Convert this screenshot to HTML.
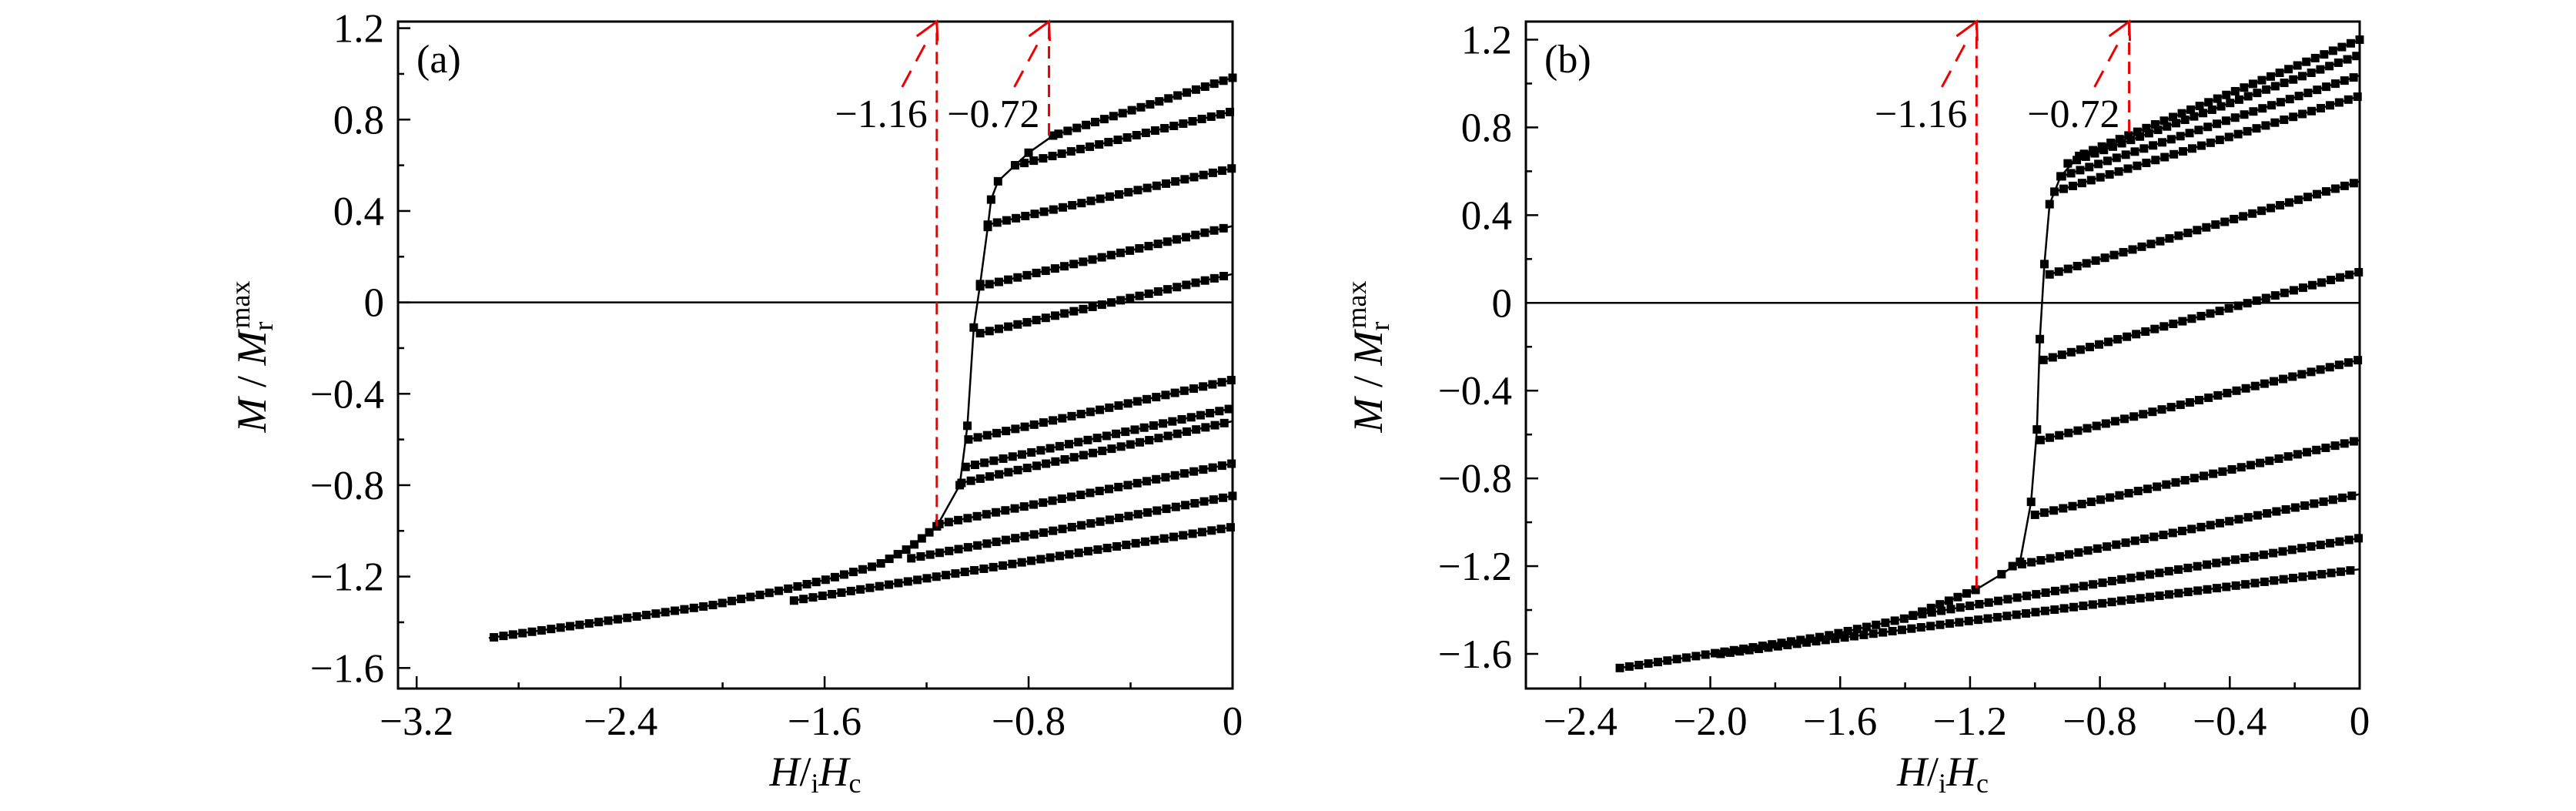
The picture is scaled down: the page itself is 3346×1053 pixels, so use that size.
<!DOCTYPE html>
<html><head><meta charset="utf-8">
<style>
html,body{margin:0;padding:0;background:#fff;}
svg{display:block;}
text{font-family:"Liberation Serif",serif;fill:#000;}
</style></head>
<body>
<svg id="fig" width="3346" height="1053" viewBox="0 0 3346 1053" xmlns="http://www.w3.org/2000/svg"></svg>
<script>
// ---- Panel (a) data ----
const aUpperH = [0, -0.704];
const aUpperM = [0.983, 0.73];
const aSteepH = [-0.704,-0.80,-0.853,-0.92,-0.947,-0.96,-0.99,-1.015,-1.04,-1.07,-1.16];
const aSteepM = [0.73,0.655,0.60,0.53,0.45,0.33,0.08,-0.11,-0.54,-0.80,-0.98];
const aLowH = [-1.16,-1.26,-1.392,-1.6,-1.77,-2.04,-2.4,-2.917];
const aLowM = [-0.98,-1.07,-1.15,-1.215,-1.26,-1.325,-1.385,-1.469];
const aRecStartH = [-0.853,-0.96,-0.99,-0.99,-1.036,-1.047,-1.063,-1.15,-1.26,-1.72];
const aRecStartM = [0.60,0.34,0.07,-0.135,-0.60,-0.72,-0.79,-0.97,-1.12,-1.305];
const aRecEndM = [0.836,0.587,0.334,0.124,-0.339,-0.463,-0.52,-0.705,-0.847,-0.983];
const aXTicks = [-3.2,-2.4,-1.6,-0.8,0];
const aXTickLabels = ["\u22123.2","\u22122.4","\u22121.6","\u22120.8","0"];
const aYTicks = [1.2,0.8,0.4,0,-0.4,-0.8,-1.2,-1.6];
const aYTickLabels = ["1.2","0.8","0.4","0","\u22120.4","\u22120.8","\u22121.2","\u22121.6"];
const aMarkH = [-1.16,-0.72];
const aMarkBaseM = [-0.98,0.73];
const aMarkLabels = ["\u22121.16","\u22120.72"];

// ---- Panel (b) data ----
const bUpperH = [0, -0.864];
const bUpperM = [1.20, 0.67];
const bSteepH = [-0.864,-0.921,-0.955,-0.971,-0.985,-0.994,-1.012,-1.046,-1.103,-1.183];
const bSteepM = [0.67,0.577,0.45,0.177,-0.165,-0.577,-0.907,-1.18,-1.237,-1.308];
const bLowH = [-1.183,-1.399,-1.649,-2.0,-2.286];
const bLowM = [-1.308,-1.438,-1.52,-1.60,-1.666];
const bRecStartH = [-0.899,-0.917,-0.94,-0.955,-0.974,-0.983,-1.0,-1.069,-1.376,-1.968];
const bRecStartM = [0.636,0.577,0.507,0.13,-0.26,-0.625,-0.966,-1.20,-1.426,-1.60];
const bRecEndM = [1.131,1.037,0.943,0.554,0.141,-0.259,-0.625,-0.872,-1.072,-1.214];
const bXTicks = [-2.4,-2.0,-1.6,-1.2,-0.8,-0.4,0];
const bXTickLabels = ["\u22122.4","\u22122.0","\u22121.6","\u22121.2","\u22120.8","\u22120.4","0"];
const bYTicks = [1.2,0.8,0.4,0,-0.4,-0.8,-1.2,-1.6];
const bYTickLabels = ["1.2","0.8","0.4","0","\u22120.4","\u22120.8","\u22121.2","\u22121.6"];
const bMarkH = [-1.18,-0.71];
const bMarkBaseM = [-1.30,0.78];
const bMarkLabels = ["\u22121.16","\u22120.72"];

const NS = "http://www.w3.org/2000/svg";
const svg = document.getElementById('fig');
function mk(tag, attrs, parent){
  const e = document.createElementNS(NS, tag);
  for (const k in attrs) e.setAttribute(k, attrs[k]);
  (parent||svg).appendChild(e);
  return e;
}

function drawPanel(p){
  const g = mk('g', {});
  
  
  const sx = v => p.L + (v - p.xmin) / (p.xmax - p.xmin) * (p.R - p.L);
  const sy = v => p.B - (v - p.ymin) / (p.ymax - p.ymin) * (p.B - p.T);

  const z = mk('line', {x1:p.L, x2:p.R, y1:sy(0), y2:sy(0), stroke:'#000', 'stroke-width':2.5}, g);
  
  

  const fr = mk('rect', {x:p.L, y:p.T, width:p.R-p.L, height:p.B-p.T, fill:'none', stroke:'#000', 'stroke-width':3}, g);
  
  

  const yAx = mk('g', {}, g);
  
  
  p.yTicks.forEach((v, i) => {
    const y = sy(v);
    mk('line', {x1:p.L, x2:p.L+16, y1:y, y2:y, stroke:'#000', 'stroke-width':2.5}, yAx);
    const t = mk('text', {x:p.L-18, y:y+18, 'text-anchor':'end', 'font-size':53}, yAx);
    t.textContent = p.yLabels[i];
    
    
    if (i < p.yTicks.length - 1) {
      const ym = sy(v - 0.2);
      mk('line', {x1:p.L, x2:p.L+8, y1:ym, y2:ym, stroke:'#000', 'stroke-width':2.5}, yAx);
    }
  });
  const xAx = mk('g', {}, g);
  
  
  const step = p.xTicks[1] - p.xTicks[0];
  p.xTicks.forEach((v, i) => {
    const x = sx(v);
    mk('line', {x1:x, x2:x, y1:p.B, y2:p.B-16, stroke:'#000', 'stroke-width':2.5}, xAx);
    const t = mk('text', {x:x, y:p.B+60, 'text-anchor':'middle', 'font-size':53}, xAx);
    t.textContent = p.xLabels[i];
    
    
    if (i < p.xTicks.length - 1) {
      const xm = sx(v + step/2);
      mk('line', {x1:xm, x2:xm, y1:p.B, y2:p.B-8, stroke:'#000', 'stroke-width':2.5}, xAx);
    }
  });

  const xt = mk('text', {x:(p.L+p.R)/2, y:1020, 'text-anchor':'middle', 'font-size':54}, g);
  
  
  xt.innerHTML = '<tspan font-style="italic">H</tspan>/<tspan font-size="36" dy="9">i</tspan><tspan font-style="italic" dy="-9">H</tspan><tspan font-size="36" dy="9">c</tspan>';
  const yt = mk('text', {x:0, y:0, 'text-anchor':'middle', 'font-size':54, transform:'translate(' + p.ytx + ',463) rotate(-90)'}, g);
  
  
  yt.innerHTML = '<tspan font-style="italic">M</tspan> / <tspan font-style="italic">M</tspan><tspan font-size="36" dy="9">r</tspan><tspan font-size="36" dy="-30" dx="-9">max</tspan>';

  const pl = mk('text', {x:p.L+24, y:94, 'font-size':52}, g);
  pl.textContent = p.letter;
  
  

  function series(hs, ms, name, dense){
    const sg = mk('g', {}, g);
    
    
    const pts = hs.map((h, i) => [sx(h), sy(ms[i])]);
    mk('polyline', {points: pts.map(q => q.join(',')).join(' '), fill:'none', stroke:'#000', 'stroke-width':2.5}, sg);
    let marks = [];
    if (dense) {
      const stepPx = 12.5;
      let carry = 0;
      marks.push(pts[0]);
      for (let i = 1; i < pts.length; i++) {
        const dx = pts[i][0]-pts[i-1][0], dy = pts[i][1]-pts[i-1][1];
        const len = Math.hypot(dx, dy);
        let d = stepPx - carry;
        while (d <= len) { marks.push([pts[i-1][0]+dx*d/len, pts[i-1][1]+dy*d/len]); d += stepPx; }
        carry = len - (d - stepPx);
      }
    } else {
      marks = pts;
    }
    marks.forEach(q => {
      const r = mk('rect', {x:q[0]-5.5, y:q[1]-5.5, width:11, height:11, fill:'#000'}, sg);
      
      
    });
  }
  series(p.upH, p.upM, 'envelope-upper', true);
  series(p.stH, p.stM, 'envelope-steep', false);
  series(p.loH, p.loM, 'envelope-lower', true);
  p.rsH.forEach((h, i) => {
    series([h, 0], [p.rsM[i], p.reM[i]], 'recoil-curve-' + (i+1), true);
  });

  p.mkH.forEach((h, i) => {
    const rg = mk('g', {}, g);
    
    
    const x = sx(h), yb = sy(p.mkM[i]);
    mk('line', {x1:x, x2:x, y1:yb, y2:p.T, stroke:'#e00', 'stroke-width':3, 'stroke-dasharray':'16,9'}, rg);
    mk('polyline', {points:(x-26)+','+(p.T+19)+' '+x+','+p.T+' '+(x+1)+','+(p.T+25), fill:'none', stroke:'#e00', 'stroke-width':3}, rg);
    mk('line', {x1:x-45, x2:x-12, y1:p.T+85, y2:p.T+24, stroke:'#e00', 'stroke-width':3, 'stroke-dasharray':'24,14'}, rg);
    const t = mk('text', {x:x-12, y:165, 'text-anchor':'end', 'font-size':52}, rg);
    t.textContent = p.mkL[i];
    
    
  });
}

drawPanel({id:'panel-a', letter:'(a)', L:517, R:1601, T:28, B:894, xmin:-3.273, xmax:0, ymin:-1.690, ymax:1.229, ytx:345,
  xTicks:aXTicks, xLabels:aXTickLabels, yTicks:aYTicks, yLabels:aYTickLabels,
  upH:aUpperH, upM:aUpperM, stH:aSteepH, stM:aSteepM, loH:aLowH, loM:aLowM,
  rsH:aRecStartH, rsM:aRecStartM, reM:aRecEndM, mkH:aMarkH, mkM:aMarkBaseM, mkL:aMarkLabels});
drawPanel({id:'panel-b', letter:'(b)', L:1982, R:3065, T:28, B:894, xmin:-2.568, xmax:0, ymin:-1.758, ymax:1.2825, ytx:1795,
  xTicks:bXTicks, xLabels:bXTickLabels, yTicks:bYTicks, yLabels:bYTickLabels,
  upH:bUpperH, upM:bUpperM, stH:bSteepH, stM:bSteepM, loH:bLowH, loM:bLowM,
  rsH:bRecStartH, rsM:bRecStartM, reM:bRecEndM, mkH:bMarkH, mkM:bMarkBaseM, mkL:bMarkLabels});
</script>
</body></html>
